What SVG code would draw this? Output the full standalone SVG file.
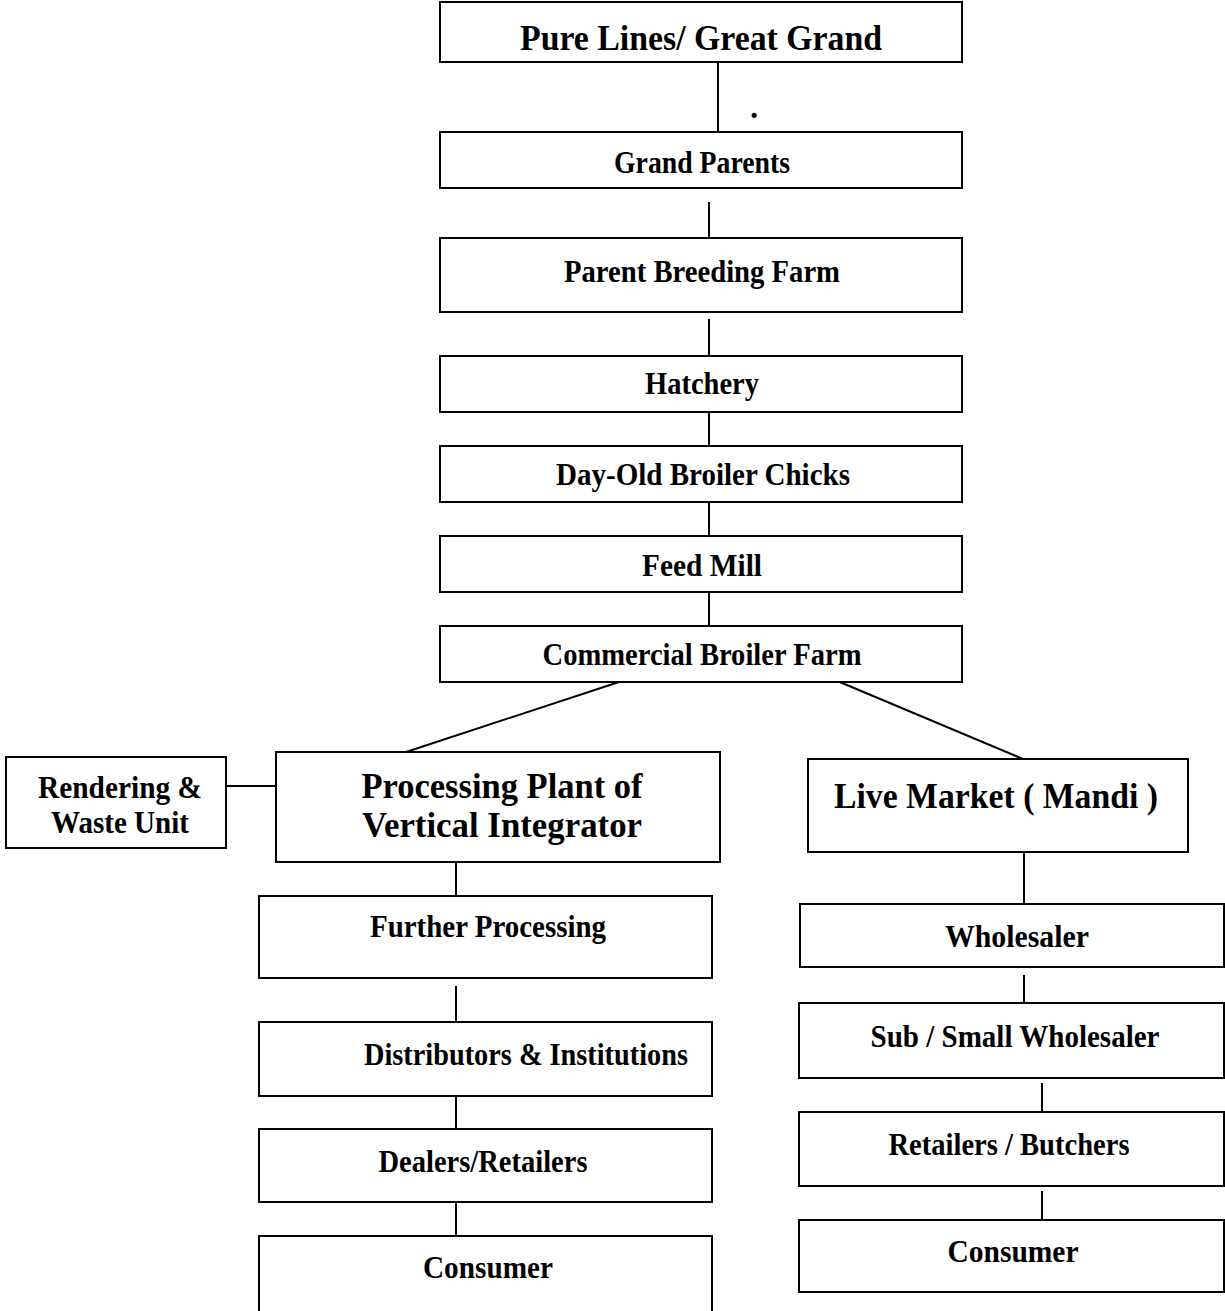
<svg xmlns="http://www.w3.org/2000/svg" width="1225" height="1311" viewBox="0 0 1225 1311">
  <style>
    .box { fill: #ffffff; stroke: #000000; stroke-width: 2; }
    .link { stroke: #000000; stroke-width: 2; fill: none; }
    .t { font-family: "Liberation Serif", "Times New Roman", serif; font-weight: bold; font-size: 31px; fill: #000000; text-anchor: middle; }
    .big { font-size: 35px; }
  </style>
  <rect width="1225" height="1311" fill="#ffffff"/>

  <!-- connectors -->
  <g id="connectors">
    <line class="link" x1="718" y1="62" x2="718" y2="132"/>
    <line class="link" x1="709" y1="202" x2="709" y2="238"/>
    <line class="link" x1="709" y1="319" x2="709" y2="356"/>
    <line class="link" x1="709" y1="410" x2="709" y2="446"/>
    <line class="link" x1="709" y1="502" x2="709" y2="536"/>
    <line class="link" x1="709" y1="591" x2="709" y2="626"/>
    <line class="link" x1="619" y1="682" x2="406" y2="752"/>
    <line class="link" x1="835" y1="680" x2="1023" y2="759"/>
    <line class="link" x1="226" y1="786" x2="276" y2="786"/>
    <line class="link" x1="456" y1="862" x2="456" y2="896"/>
    <line class="link" x1="456" y1="986" x2="456" y2="1022"/>
    <line class="link" x1="456" y1="1093" x2="456" y2="1129"/>
    <line class="link" x1="456" y1="1202" x2="456" y2="1236"/>
    <line class="link" x1="1024" y1="850" x2="1024" y2="904"/>
    <line class="link" x1="1024" y1="975" x2="1024" y2="1003"/>
    <line class="link" x1="1042" y1="1083" x2="1042" y2="1112"/>
    <line class="link" x1="1042" y1="1191" x2="1042" y2="1220"/>
  </g>

  <g id="pure-lines">
    <rect class="box" x="440" y="2" width="522" height="60"/>
    <text class="t big" x="701" y="50" textLength="362" lengthAdjust="spacingAndGlyphs">Pure Lines/ Great Grand</text>
  </g>
  <text class="t" x="754" y="118" font-size="14px">.</text>

  <g id="grand-parents">
    <rect class="box" x="440" y="132" width="522" height="56"/>
    <text class="t" x="702" y="173" textLength="176" lengthAdjust="spacingAndGlyphs">Grand Parents</text>
  </g>

  <g id="parent-breeding">
    <rect class="box" x="440" y="238" width="522" height="74"/>
    <text class="t" x="702" y="282" textLength="276" lengthAdjust="spacingAndGlyphs">Parent Breeding Farm</text>
  </g>

  <g id="hatchery">
    <rect class="box" x="440" y="356" width="522" height="56"/>
    <text class="t" x="702" y="394" textLength="114" lengthAdjust="spacingAndGlyphs">Hatchery</text>
  </g>

  <g id="day-old-chicks">
    <rect class="box" x="440" y="446" width="522" height="56"/>
    <text class="t" x="703" y="485" textLength="294" lengthAdjust="spacingAndGlyphs">Day-Old Broiler Chicks</text>
  </g>

  <g id="feed-mill">
    <rect class="box" x="440" y="536" width="522" height="56"/>
    <text class="t" x="702" y="576" textLength="120" lengthAdjust="spacingAndGlyphs">Feed Mill</text>
  </g>

  <g id="commercial-farm">
    <rect class="box" x="440" y="626" width="522" height="56"/>
    <text class="t" x="702" y="665" textLength="319" lengthAdjust="spacingAndGlyphs">Commercial Broiler Farm</text>
  </g>

  <g id="rendering">
    <rect class="box" x="6" y="757" width="220" height="91"/>
    <text class="t" x="120" y="798" textLength="164" lengthAdjust="spacingAndGlyphs">Rendering &amp;</text>
    <text class="t" x="120" y="833" textLength="138" lengthAdjust="spacingAndGlyphs">Waste Unit</text>
  </g>

  <g id="processing-plant">
    <rect class="box" x="276" y="752" width="444" height="110"/>
    <text class="t big" x="502" y="798" textLength="281" lengthAdjust="spacingAndGlyphs">Processing Plant of</text>
    <text class="t big" x="502" y="837" textLength="280" lengthAdjust="spacingAndGlyphs">Vertical Integrator</text>
  </g>

  <g id="live-market">
    <rect class="box" x="808" y="759" width="380" height="93"/>
    <text class="t big" x="996" y="808" textLength="324" lengthAdjust="spacingAndGlyphs">Live Market ( Mandi )</text>
  </g>

  <g id="further-processing">
    <rect class="box" x="259" y="896" width="453" height="82"/>
    <text class="t" x="488" y="937" textLength="236" lengthAdjust="spacingAndGlyphs">Further Processing</text>
  </g>

  <g id="distributors">
    <rect class="box" x="259" y="1022" width="453" height="74"/>
    <text class="t" x="526" y="1065" textLength="324" lengthAdjust="spacingAndGlyphs">Distributors &amp; Institutions</text>
  </g>

  <g id="dealers">
    <rect class="box" x="259" y="1129" width="453" height="73"/>
    <text class="t" x="483" y="1172" textLength="209" lengthAdjust="spacingAndGlyphs">Dealers/Retailers</text>
  </g>

  <g id="consumer-left">
    <rect class="box" x="259" y="1236" width="453" height="90"/>
    <text class="t" x="488" y="1278" textLength="130" lengthAdjust="spacingAndGlyphs">Consumer</text>
  </g>

  <g id="wholesaler">
    <rect class="box" x="800" y="904" width="424" height="63"/>
    <text class="t" x="1017" y="947" textLength="144" lengthAdjust="spacingAndGlyphs">Wholesaler</text>
  </g>

  <g id="sub-wholesaler">
    <rect class="box" x="799" y="1003" width="425" height="75"/>
    <text class="t" x="1015" y="1047" textLength="289" lengthAdjust="spacingAndGlyphs">Sub / Small Wholesaler</text>
  </g>

  <g id="retailers-butchers">
    <rect class="box" x="799" y="1112" width="425" height="74"/>
    <text class="t" x="1009" y="1155" textLength="241" lengthAdjust="spacingAndGlyphs">Retailers / Butchers</text>
  </g>

  <g id="consumer-right">
    <rect class="box" x="799" y="1220" width="425" height="72"/>
    <text class="t" x="1013" y="1262" textLength="131" lengthAdjust="spacingAndGlyphs">Consumer</text>
  </g>
</svg>
